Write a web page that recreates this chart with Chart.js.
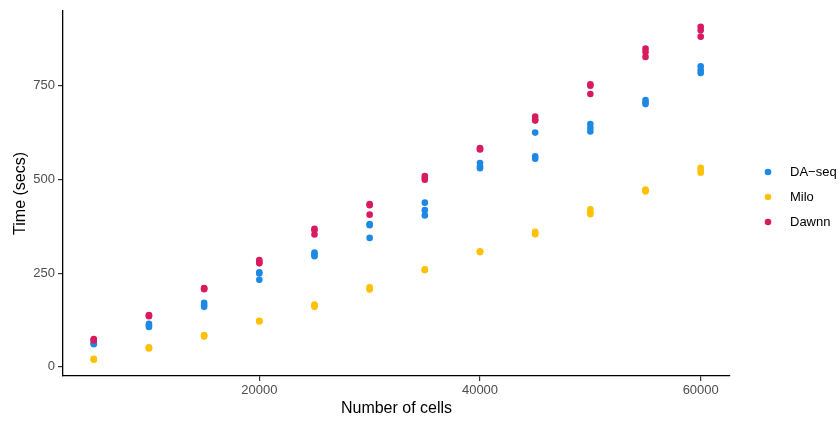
<!DOCTYPE html>
<html>
<head>
<meta charset="utf-8">
<script src="https://cdn.jsdelivr.net/npm/chart.js@4/dist/chart.umd.min.js"></script>
<style>
  html, body { margin: 0; padding: 0; background: #fff; }
</style>
</head>
<body>
<canvas id="tiempos" width="840" height="421"></canvas>
<script>
// number of cells on the x axis, three runs per method
var cells = [5000, 10000, 15000, 20000, 25000, 30000, 35000, 40000, 45000, 50000, 55000, 60000];
var daseq = [[62, 60, 64], [115, 110, 106], [171, 165, 160], [252, 249, 232], [305, 300, 295], [381, 378, 344],
             [438, 418, 404], [544, 535, 530], [625, 562, 555], [648, 637, 628], [712, 705, 701], [802, 792, 784]];
var milo = [[20, 21, 19], [50, 52, 49], [83, 85, 81], [122, 121, 123], [166, 160, 163], [209, 212, 206],
            [259, 258, 260], [307, 306, 308], [360, 356, 354], [420, 412, 407], [471, 473, 468], [531, 524, 518]];
var dawnn = [[74, 70, 72], [137, 135, 138], [209, 207, 210], [285, 280, 276], [368, 365, 353], [434, 431, 406],
             [509, 504, 499], [584, 582, 580], [668, 660, 657], [754, 750, 728], [849, 840, 827], [907, 898, 881]];
var methods = ['DA\u2212seq', 'Milo', 'Dawnn'];
var colores = ['#1E88E5', '#FFC107', '#D81B60'];
var xTicks = [20000, 40000, 60000];
var yTicks = [0, 250, 500, 750];

function puntos(runs) {
  var out = [];
  runs.forEach(function (r, i) {
    r.forEach(function (v) { out.push({ x: cells[i], y: v }); });
  });
  return out;
}

var fuente = '"Liberation Sans", Arial, Helvetica, sans-serif';

// legend drawn by hand, ggplot style, right of the panel
var leyenda = {
  id: 'leyenda',
  afterDraw: function (chart) {
    var ctx = chart.ctx;
    ctx.save();
    ctx.font = '13px ' + fuente;
    ctx.textBaseline = 'middle';
    ctx.textAlign = 'left';
    methods.forEach(function (m, i) {
      var y = 172 + i * 25;
      ctx.fillStyle = colores[i];
      ctx.beginPath();
      ctx.arc(768, y, 3.3, 0, Math.PI * 2);
      ctx.fill();
      ctx.fillStyle = '#000';
      ctx.fillText(m, 790, y);
    });
    ctx.restore();
  }
};

var tiempos = document.getElementById('tiempos').getContext('2d');

var dispersion = new Chart(tiempos, {
  type: 'scatter',
  data: {
    datasets: [
      { label: methods[0], data: puntos(daseq), backgroundColor: colores[0], order: 3 },
      { label: methods[1], data: puntos(milo), backgroundColor: colores[1], order: 2 },
      { label: methods[2], data: puntos(dawnn), backgroundColor: colores[2], order: 1 }
    ]
  }, // data
  options: {
    responsive: false,
    animation: false,
    events: [],
    layout: { padding: { top: 8, right: 110, left: 0, bottom: 0 } },
    elements: { point: { radius: 3.3, borderWidth: 0, hoverRadius: 3.3 } },
    plugins: { legend: { display: false }, tooltip: { enabled: false } },
    scales: {
      x: {
        type: 'linear',
        min: 2211,
        max: 62655,
        afterBuildTicks: function (s) { s.ticks = xTicks.map(function (v) { return { value: v }; }); },
        afterFit: function (s) { s.height = 45; },
        ticks: { color: '#4d4d4d', font: { family: fuente, size: 13 }, padding: 2, maxRotation: 0,
                 callback: function (v) { return String(v); } },
        grid: { drawOnChartArea: false, drawTicks: true, tickLength: 5, color: '#333', lineWidth: 1.2 },
        border: { display: true, color: '#000', width: 1.3 },
        title: { display: true, text: 'Number of cells', color: '#000',
                 font: { family: fuente, size: 16 }, padding: { top: 0, bottom: 3 } }
      },
      y: {
        type: 'linear',
        min: -24.6,
        max: 950,
        afterBuildTicks: function (s) { s.ticks = yTicks.map(function (v) { return { value: v }; }); },
        afterFit: function (s) { s.width = 63; },
        ticks: { color: '#4d4d4d', font: { family: fuente, size: 13 }, padding: 3,
                 callback: function (v) { return String(v); } },
        grid: { drawOnChartArea: false, drawTicks: true, tickLength: 5, color: '#333', lineWidth: 1.2 },
        border: { display: true, color: '#000', width: 1.3 },
        title: { display: true, text: 'Time (secs)', color: '#000',
                 font: { family: fuente, size: 16 }, padding: { top: 11, bottom: 0 } }
      }
    }
  },
  plugins: [leyenda]
});
</script>
</body>
</html>
